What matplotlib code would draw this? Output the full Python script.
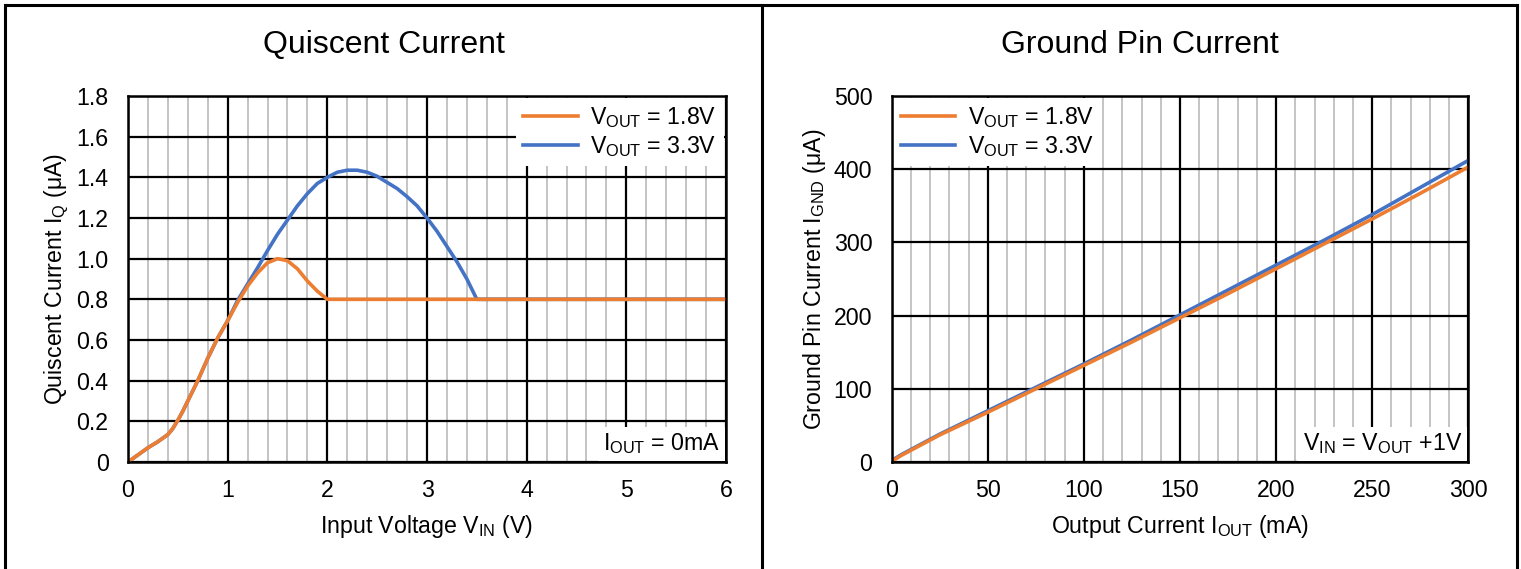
import matplotlib
matplotlib.use("Agg")
import matplotlib.pyplot as plt
from matplotlib.lines import Line2D
from matplotlib.offsetbox import AnchoredText
from matplotlib.ticker import MultipleLocator

plt.rcParams['font.family'] = ['Liberation Sans', 'DejaVu Sans']
plt.rcParams['mathtext.fontset'] = 'custom'
plt.rcParams['mathtext.rm'] = 'Liberation Sans'

# ---------------- data ----------------
vin = [0, 0.1, 0.2, 0.3, 0.4, 0.45, 0.5, 0.55, 0.6, 0.7, 0.8, 0.9, 1.0, 1.1, 1.2, 1.3, 1.4, 1.5,
       1.6, 1.7, 1.8, 1.9, 2.0, 2.1, 2.2, 2.3, 2.4, 2.5, 2.6, 2.7, 2.8, 2.9, 3.0,
       3.1, 3.2, 3.3, 3.4, 3.5, 4.0, 5.0, 6.0]
iq_18 = [0, 0.035, 0.07, 0.10, 0.135, 0.165, 0.205, 0.25, 0.30, 0.40, 0.51, 0.61, 0.695, 0.785, 0.865, 0.93, 0.98, 1.00,
         0.99, 0.95, 0.89, 0.84, 0.80, 0.80, 0.80, 0.80, 0.80, 0.80, 0.80, 0.80, 0.80, 0.80, 0.80,
         0.80, 0.80, 0.80, 0.80, 0.80, 0.80, 0.80, 0.80]
iq_33 = [0, 0.035, 0.07, 0.10, 0.135, 0.165, 0.205, 0.25, 0.30, 0.40, 0.51, 0.61, 0.695, 0.795, 0.875, 0.955, 1.04, 1.12,
         1.19, 1.26, 1.32, 1.37, 1.40, 1.425, 1.435, 1.435, 1.425, 1.405, 1.375, 1.345, 1.305, 1.26, 1.20,
         1.135, 1.06, 0.985, 0.90, 0.80, 0.80, 0.80, 0.80]

iout = [0, 5, 10, 25, 50, 75, 100, 125, 150, 175, 200, 225, 250, 275, 300]
ignd_18 = [1, 9, 16, 37, 68, 100, 132, 164, 197, 230, 264, 298, 332, 367, 403]
ignd_33 = [2, 10, 17, 38, 70, 102, 134, 167, 201, 235, 269, 303, 338, 375, 412]

left_xticks = [0, 1, 2, 3, 4, 5, 6]
left_yticks = [0, 0.2, 0.4, 0.6, 0.8, 1.0, 1.2, 1.4, 1.6, 1.8]
left_yticklabels = ["0", "0.2", "0.4", "0.6", "0.8", "1.0", "1.2", "1.4", "1.6", "1.8"]
right_xticks = [0, 50, 100, 150, 200, 250, 300]
right_yticks = [0, 100, 200, 300, 400, 500]

label_18 = r"V$_{\mathregular{OUT}}$ = 1.8V"
label_33 = r"V$_{\mathregular{OUT}}$ = 3.3V"

ORANGE = "#ED7D31"
BLUE = "#4472C4"
FS = 16.7

fig = plt.figure(figsize=(15.21, 5.69), dpi=100)
W, H = 1521, 569

def fx(p):
    return p / W

def fy(p):
    return 1 - p / H

# panel frames
for xs, ys in [((5, 1517), (5, 5)), ((5, 5), (5, 569)), ((762, 762), (5, 569)), ((1517, 1517), (5, 569))]:
    fig.add_artist(Line2D([fx(x) for x in xs], [fy(y) for y in ys], color="black", lw=2.2,
                          transform=fig.transFigure))

axL = fig.add_axes([fx(128), fy(462), fx(726) - fx(128), fy(96) - fy(462)])
axR = fig.add_axes([fx(891.7), fy(462), fx(1468.3) - fx(891.7), fy(96) - fy(462)])

def style(ax, xmaj, xmin):
    ax.set_axisbelow(True)
    ax.xaxis.set_major_locator(MultipleLocator(xmaj))
    ax.xaxis.set_minor_locator(MultipleLocator(xmin))
    ax.grid(True, which="major", axis="both", color="black", lw=1.6)
    ax.grid(True, which="minor", axis="x", color="#BFBFBF", lw=1.3)
    ax.tick_params(which="both", length=0, labelsize=FS)
    ax.tick_params(axis="x", pad=12)
    ax.tick_params(axis="y", pad=14)
    for s in ax.spines.values():
        s.set_color("black")
        s.set_linewidth(1.8)
        s.set_zorder(5)

# left
axL.plot(vin, iq_33, color=BLUE, lw=2.6, label=label_33, zorder=3)
axL.plot(vin, iq_18, color=ORANGE, lw=2.6, label=label_18, zorder=4)
axL.set_xlim(0, 6)
axL.set_ylim(0, 1.8)
style(axL, 1, 0.2)
axL.set_xticks(left_xticks)
axL.set_yticks(left_yticks)
axL.set_yticklabels(left_yticklabels)
axL.set_xlabel(r"Input Voltage V$_{\mathregular{IN}}$ (V)", fontsize=FS, labelpad=8)
axL.set_ylabel(r"Quiscent Current I$_{\mathregular{Q}}$ (μA)", fontsize=FS, labelpad=4)
h, l = axL.get_legend_handles_labels()
legL = axL.legend(h[::-1], l[::-1], loc="upper right", fontsize=FS, frameon=True, fancybox=False,
                  framealpha=1, edgecolor="none", facecolor="white", borderaxespad=0.1,
                  handlelength=2.35, handletextpad=0.55, labelspacing=0.15, borderpad=0.3)
legL.set_zorder(6)
atL = AnchoredText(r"I$_{\mathregular{OUT}}$ = 0mA", loc="lower right", prop=dict(size=FS),
                   frameon=True, pad=0.2, borderpad=0.05)
atL.patch.set_facecolor("white")
atL.patch.set_edgecolor("none")
atL.set_zorder(6)
axL.add_artist(atL)

# right
axR.plot(iout, ignd_33, color=BLUE, lw=2.6, label=label_33, zorder=3)
axR.plot(iout, ignd_18, color=ORANGE, lw=2.6, label=label_18, zorder=4)
axR.set_xlim(0, 300)
axR.set_ylim(0, 500)
style(axR, 50, 10)
axR.set_xticks(right_xticks)
axR.set_yticks(right_yticks)
axR.set_xlabel(r"Output Current I$_{\mathregular{OUT}}$ (mA)", fontsize=FS, labelpad=8)
axR.set_ylabel(r"Ground Pin Current I$_{\mathregular{GND}}$ (μA)", fontsize=FS, labelpad=4)
h, l = axR.get_legend_handles_labels()
legR = axR.legend(h[::-1], l[::-1], loc="upper left", fontsize=FS, frameon=True, fancybox=False,
                  framealpha=1, edgecolor="none", facecolor="white", borderaxespad=0.1,
                  handlelength=2.35, handletextpad=0.55, labelspacing=0.15, borderpad=0.3)
legR.set_zorder(6)
atR = AnchoredText(r"V$_{\mathregular{IN}}$ = V$_{\mathregular{OUT}}$ +1V", loc="lower right",
                   prop=dict(size=FS), frameon=True, pad=0.2, borderpad=0.05)
atR.patch.set_facecolor("white")
atR.patch.set_edgecolor("none")
atR.set_zorder(6)
axR.add_artist(atR)

# titles centred on each panel
fig.text(fx(384), fy(45), "Quiscent Current", fontsize=23, ha="center", va="center")
fig.text(fx(1140), fy(45), "Ground Pin Current", fontsize=23, ha="center", va="center")

fig.savefig("out.png", dpi=100)
